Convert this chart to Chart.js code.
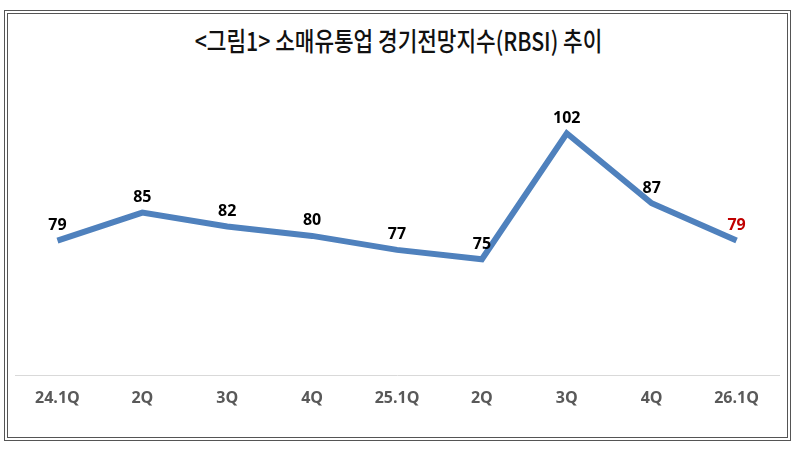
<!DOCTYPE html>
<html>
<head>
<meta charset="utf-8">
<script src="https://cdn.jsdelivr.net/npm/chart.js@4"></script>
<style>
  html, body { margin: 0; padding: 0; background: #fff; }
  #wrap { position: relative; width: 797px; height: 449px; overflow: hidden; }
  #frame {
    position: absolute; left: 4px; top: 10px; width: 779px; height: 423px;
    border: 4px double #555;
  }
  #title {
    position: absolute; left: 0; top: 22px; width: 797px; text-align: center;
    font-family: "Noto Sans CJK KR", sans-serif; font-size: 26px; font-weight: 500;
    line-height: 36px; color: #111; transform: scaleX(0.82); transform-origin: 50% 50%;
  }
  canvas { position: absolute; left: 0; top: 0; }
</style>
</head>
<body>
<div id="wrap">
  <div id="frame"></div>
  <div id="title">&lt;그림1&gt; 소매유통업 경기전망지수(RBSI) 추이</div>
  <canvas id="chart" width="797" height="449"></canvas>
</div>
<script>
// 분기 라벨 / 지수 값
var quarters = ['24.1Q', '2Q', '3Q', '4Q', '25.1Q', '2Q', '3Q', '4Q', '26.1Q'];
var rbsi = [79, 85, 82, 80, 77, 75, 102, 87, 79];
var labelColors = ['#000', '#000', '#000', '#000', '#000', '#000', '#000', '#000', '#c00000'];

// 점 위에 값 표시
var valueLabels = {
  id: 'valueLabels',
  afterDatasetsDraw: function(chart) {
    var ctx = chart.ctx;
    var meta = chart.getDatasetMeta(0);
    ctx.save();
    ctx.font = 'bold 16px "Open Sans", sans-serif';
    ctx.textAlign = 'center';
    ctx.textBaseline = 'middle';
    meta.data.forEach(function(pt, i) {
      ctx.fillStyle = labelColors[i];
      ctx.fillText(String(rbsi[i]), pt.x, pt.y - 15);
    });
    ctx.restore();
  }
};

new Chart(document.getElementById('chart').getContext('2d'), {
  type: 'line',
  data: {
    labels: quarters,
    datasets: [{
      label: 'RBSI',
      data: rbsi,
      borderColor: '#4f81bd',
      borderWidth: 6,
      pointRadius: 0,
      tension: 0,
      fill: false
    }]
  },
  options: {
    responsive: false,
    animation: false,
    layout: { padding: { left: 15, right: 18, top: 96, bottom: 28 } },
    plugins: {
      legend: { display: false },
      title: { display: false },
      tooltip: { enabled: false }
    },
    scales: {
      x: {
        offset: true,
        grid: { display: true, drawOnChartArea: false, drawTicks: false, offset: true },
        border: { display: true, color: '#d9d9d9', width: 1 },
        ticks: {
          color: '#595959',
          padding: 13,
          font: { family: '"Open Sans", sans-serif', size: 16, weight: 'bold' }
        }
      },
      y: {
        display: false,
        min: 50,
        max: 110
      }
    }
  },
  plugins: [valueLabels]
});
</script>
</body>
</html>
